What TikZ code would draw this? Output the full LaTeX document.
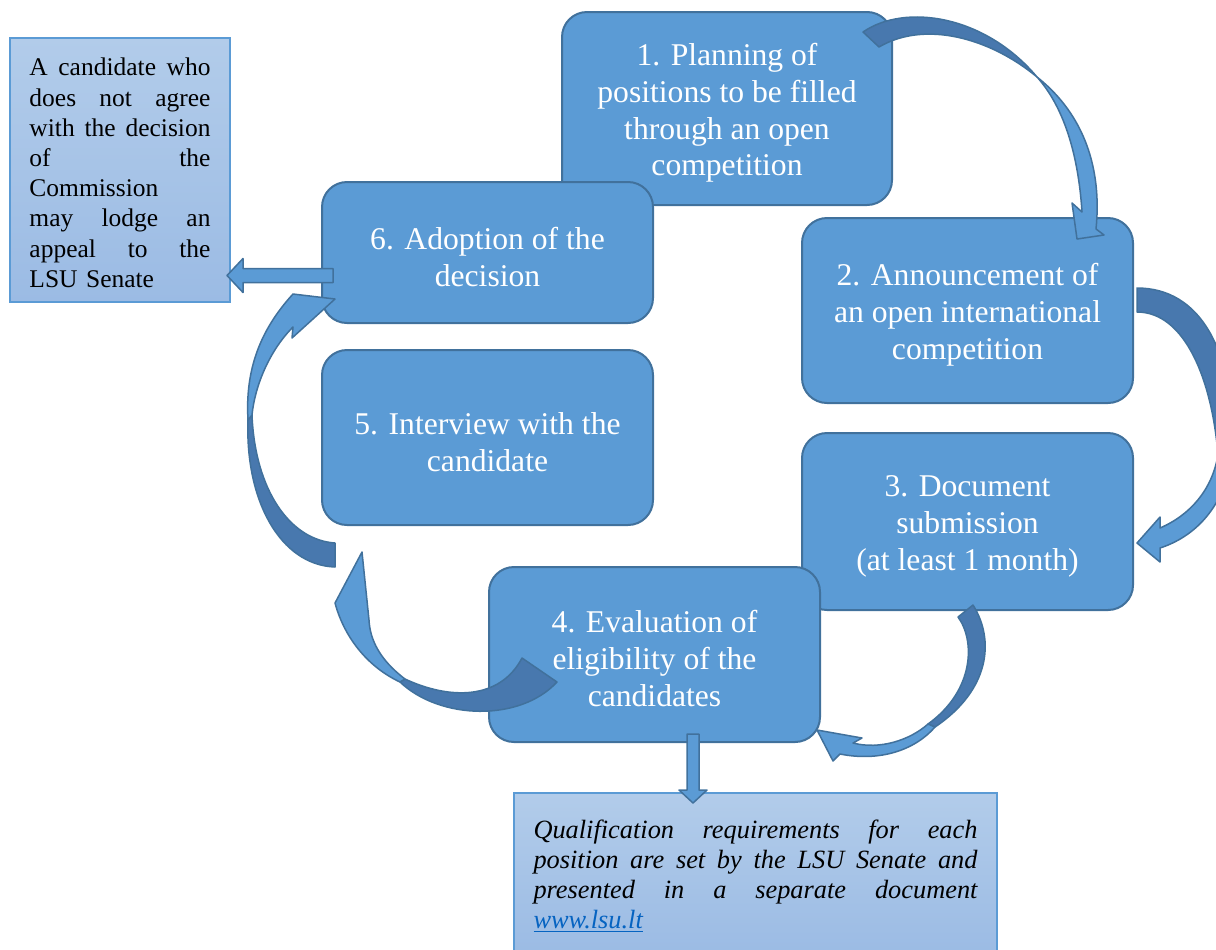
\documentclass[tikz,border=0pt]{standalone}
\usepackage{fontspec}
\setmainfont{Liberation Serif}

\definecolor{stepblue}{HTML}{5B9BD5}
\definecolor{stepline}{HTML}{41719C}
\definecolor{stepdark}{HTML}{4878AE}
\definecolor{notetop}{HTML}{B2CCEA}
\definecolor{notebottom}{HTML}{9BBBE4}
\definecolor{linkblue}{HTML}{0563C1}

\newcommand\toprule{\rule{0pt}{17.6pt}}

\begin{document}
\begin{tikzpicture}
    [ x=0.2mm, y=-0.2mm
    , stage/.style={draw=stepline,fill=stepblue,line width=0.4mm,rounded corners=5mm,minimum width=66.2mm,inner sep=0pt,text=white,align=center,font=\fontsize{18}{21}\selectfont}
    , note/.style={draw=stepblue,line width=0.3mm,top color=notetop,bottom color=notebottom,inner sep=0pt,align=left,font=\fontsize{14.5}{17.2}\selectfont}
    , band/.style={draw=stepline,line width=0.3mm,fill=stepblue,line join=round}
    , twist/.style={band,fill=stepdark}
    ]

    \useasboundingbox (0,0) rectangle (1216,949);

    \path (727,108.5)   node [stage, minimum width=66mm, minimum height=38.6mm] (plan) {\toprule 1. Planning of\\positions to be filled\\through an open\\competition};
    \path (967.5,310.5) node [stage, minimum height=37mm]   (announce)  {\toprule 2. Announcement of\\an open international\\competition};
    \path (967.5,521.5) node [stage, minimum height=35.4mm] (submit)    {\toprule 3. Document\\submission\\(at least 1 month)};
    \path (654.5,654.5) node [stage, minimum height=35mm]   (evaluate)  {\toprule 4. Evaluation of\\eligibility of the\\candidates};
    \path (487.5,437.5) node [stage, minimum height=35mm]   (interview) {\toprule 5. Interview with the\\candidate};
    \path (487.5,252.5) node [stage, minimum height=28.2mm] (adopt)     {\toprule 6. Adoption of the\\decision};

    \path (120,170) node [note, minimum width=44mm, minimum height=52.8mm, text width=36.2mm] (appeal)
      {\rule{0pt}{13.3pt}A \hfill candidate \hfill who\\
       does \hfill not \hfill agree\\
       with \hfill the \hfill decision\\
       of \hfill the\\
       Commission\\
       may \hfill lodge \hfill an\\
       appeal \hfill to \hfill the\\
       LSU Senate};
    \path (755.5,874.5) node [note, minimum width=96.6mm, minimum height=32.6mm, text width=88.8mm, font=\fontsize{15}{17.2}\selectfont\itshape] (rules)
      {\rule{0pt}{12.5pt}Qualification \hfill requirements \hfill for \hfill each\\
       position \hfill are \hfill set \hfill by \hfill the \hfill LSU \hfill Senate \hfill and\\
       presented \hfill in \hfill a \hfill separate \hfill document\\
       \textcolor{linkblue}{\underline{www.lsu.lt}}};

    % 1 -> 2
    \draw [twist] (863,32) .. controls (905,3) and (985,15) .. (1037,77)
                  .. controls (990,38) and (925,20) .. (879,47) -- cycle;
    \draw [band] (1037,77) .. controls (1062,105) and (1078,150) .. (1082,212)
                 -- (1072,203) -- (1077,239) -- (1104,235) -- (1096,229)
                 .. controls (1102,170) and (1085,115) .. (1037,77) -- cycle;

    % 2 -> 3
    \draw [twist] (1137,288) .. controls (1200,288) and (1235,350) .. (1232,450)
                  -- (1218,455) .. controls (1212,380) and (1185,312) .. (1137,312) -- cycle;
    \draw [band] (1160,528) .. controls (1190,515) and (1212,490) .. (1218,455)
                 -- (1232,450) .. controls (1228,500) and (1200,535) .. (1160,548)
                 -- (1160,562) -- (1137,543) -- (1160,517) -- cycle;

    % 3 -> 4
    \draw [twist] (973,605) .. controls (995,640) and (990,690) .. (935,727)
                  -- (928,724) .. controls (975,690) and (975,640) .. (958,617) -- cycle;
    \draw [band] (840,754) -- (833,761) -- (817,730) -- (862,738) -- (853,743)
                 .. controls (880,750) and (910,740) .. (928,724)
                 -- (935,727) .. controls (915,750) and (880,762) .. (840,754) -- cycle;

    % 4 -> 5
    \draw [twist] (557,682) .. controls (520,722) and (440,720) .. (400,682)
                  -- (405,679) .. controls (450,700) and (500,700) .. (522,658) -- cycle;
    \draw [band] (362,552) -- (335,603) .. controls (345,640) and (370,668) .. (400,682)
                 -- (405,679) .. controls (380,660) and (370,640) .. (369,620) -- cycle;

    % 5 -> 6
    \draw [twist] (335,567) .. controls (280,565) and (245,500) .. (248,420)
                  -- (252,415) .. controls (255,490) and (290,540) .. (335,543) -- cycle;
    \draw [band] (248,420) .. controls (245,370) and (260,330) .. (293,294)
                 -- (335,299) -- (292,338) -- (293,327)
                 .. controls (270,350) and (255,385) .. (252,415) -- cycle;

    % side arrows
    \draw [band] ([shift={(12,16)}]adopt.west) -- ++(-90,0) -- ++(0,-10) -- ++(-16,17)
                 -- ++(16,17) -- ++(0,-10) -- ++(90,0) -- cycle;
    \draw [band] ([shift={(32.5,-9)}]evaluate.south) -- ++(0,56) -- ++(-8,0) -- ++(14,13)
                 -- ++(14,-13) -- ++(-8,0) -- ++(0,-56) -- cycle;
\end{tikzpicture}
\end{document}
